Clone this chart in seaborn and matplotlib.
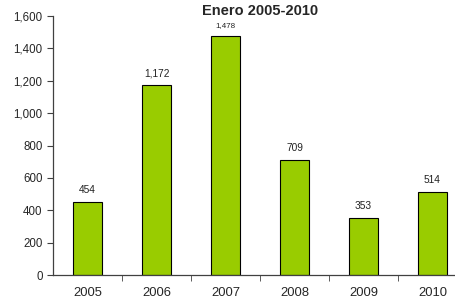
import matplotlib
matplotlib.use("Agg")
import matplotlib.pyplot as plt
import seaborn as sns
import pandas as pd
import numpy as np
from matplotlib.ticker import FuncFormatter, FixedLocator

years = ["2005", "2006", "2007", "2008", "2009", "2010"]
values = [454, 1172, 1478, 709, 353, 514]
title = "Enero 2005-2010"

def main():
    sns.set_style("white")
    plt.rcParams['font.family'] = ['Liberation Sans', 'DejaVu Sans']

    df = pd.DataFrame({"year": years, "value": values})

    fig = plt.figure(figsize=(4.56, 2.99), dpi=100)
    # axes spans a bit past the right edge, like the original
    ax = fig.add_axes([53 / 456, 1 - 275 / 299, 414 / 456, 259 / 299])

    sns.barplot(data=df, x="year", y="value", color="#99cc00", saturation=1,
                edgecolor="black", linewidth=0.8, width=0.42, ax=ax)

    top = max(values)
    for i, v in enumerate(values):
        # the tallest label sits under the title, drawn smaller
        size = 5.8 if v == top else 7.3
        ax.annotate(f"{v:,}", (i, v), xytext=(0, 5), textcoords="offset points",
                    ha="center", va="bottom", fontsize=size, color="#222222")

    ax.set_xlim(-0.5, len(years) - 0.5)
    ax.set_ylim(0, 1600)
    ax.set_yticks(np.arange(0, 1601, 200))
    ax.yaxis.set_major_formatter(FuncFormatter(lambda v, p: f"{int(v):,}"))

    ax.xaxis.set_minor_locator(FixedLocator(np.arange(0.5, len(years) - 0.5, 1)))
    ax.tick_params(axis="x", which="major", length=0, labelsize=9.4, pad=9)
    ax.tick_params(axis="x", which="minor", length=4, direction="out", color="#404040", bottom=True)
    ax.tick_params(axis="y", length=4, direction="out", color="#404040", labelsize=8.3, pad=3.5, left=True)

    ax.set_xlabel("")
    ax.set_ylabel("")
    ax.set_title(title, fontsize=10.5, fontweight="bold", pad=1)

    for s in ["top", "right"]:
        ax.spines[s].set_visible(False)
    for s in ["left", "bottom"]:
        ax.spines[s].set_color("#404040")
        ax.spines[s].set_linewidth(0.9)

    plt.savefig("out.png", dpi=100)

if __name__ == '__main__':
    main()
